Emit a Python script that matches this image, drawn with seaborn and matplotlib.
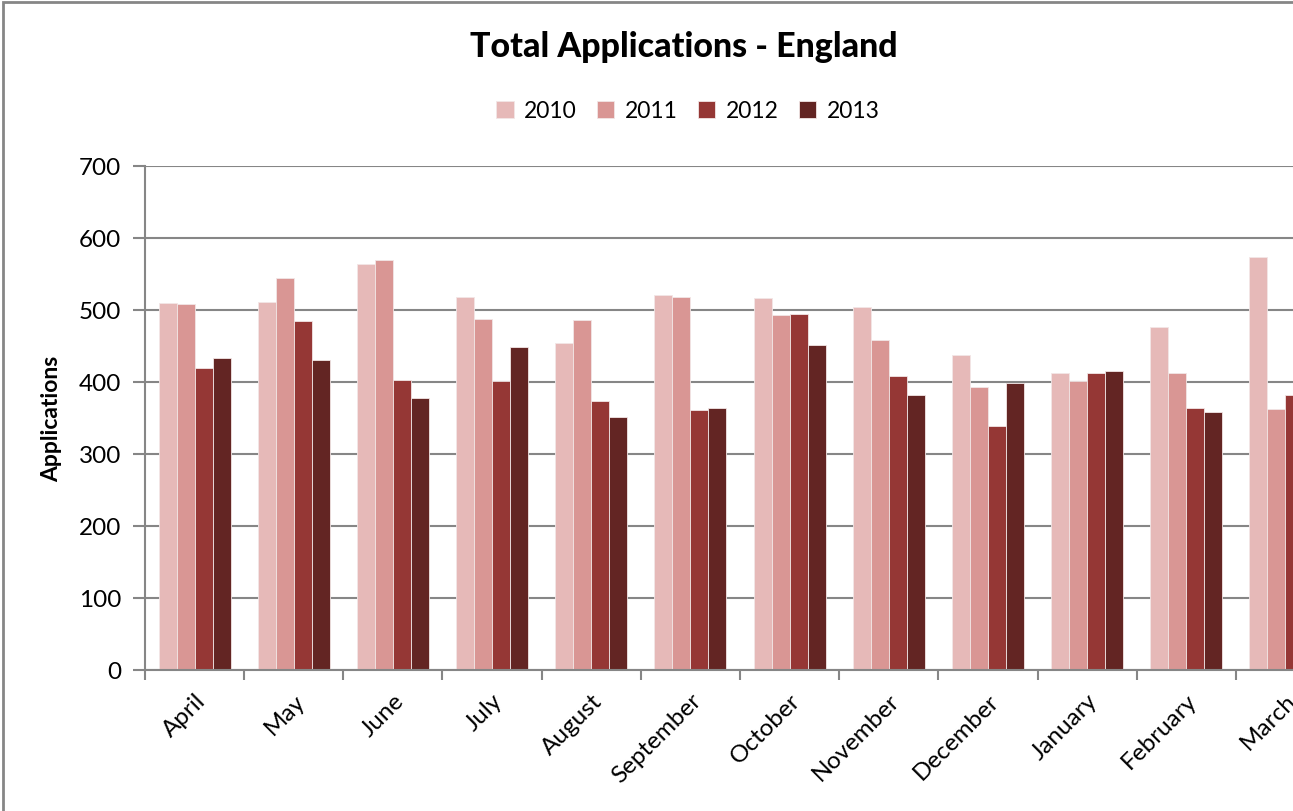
import matplotlib
matplotlib.use("Agg")
import matplotlib.pyplot as plt
import seaborn as sns
import pandas as pd
from matplotlib.patches import Rectangle
from matplotlib.ticker import FixedLocator

months = ["April", "May", "June", "July", "August", "September", "October",
          "November", "December", "January", "February", "March"]
years = ["2010", "2011", "2012", "2013"]
apps_2010 = [510, 511, 564, 518, 454, 521, 516, 504, 438, 413, 476, 574]
apps_2011 = [508, 545, 569, 488, 486, 518, 493, 458, 393, 401, 412, 362]
apps_2012 = [419, 485, 403, 401, 373, 361, 494, 408, 339, 412, 364, 382]
apps_2013 = [433, 431, 378, 448, 352, 364, 452, 382, 398, 415, 358, 390]
colors = ["#E6B9B8", "#D99694", "#953735", "#632523"]

df = pd.DataFrame({
    "month": months * 4,
    "year": sum([[y] * len(months) for y in years], []),
    "value": apps_2010 + apps_2011 + apps_2012 + apps_2013,
})

sns.set_theme(style="white")
plt.rcParams["font.family"] = ["Lato", "DejaVu Sans"]
plt.rcParams["text.color"] = "black"
plt.rcParams["axes.labelcolor"] = "black"

W, H = 1293, 812
fig = plt.figure(figsize=(W / 100, H / 100), dpi=100)
# plot area runs past the right edge, as in the cropped original
ax = fig.add_axes([145 / W, 1 - 671 / H, 1190 / W, (671 - 167) / H])

sns.barplot(data=df, x="month", y="value", hue="year", order=months,
            hue_order=years, palette=colors, width=0.727, gap=0,
            edgecolor="#F2E6E6", linewidth=0.6, saturation=1, ax=ax)

ax.set_xlim(-0.5, 11.5)
ax.set_ylim(0, 700)
ax.set_yticks(range(0, 701, 100))
ax.yaxis.grid(True, color="#868686", linewidth=1.5)
ax.set_axisbelow(True)
for s in ["top", "right"]:
    ax.spines[s].set_visible(False)
for s in ["left", "bottom"]:
    ax.spines[s].set_color("#868686")
    ax.spines[s].set_linewidth(1.5)

ax.tick_params(axis="y", which="major", left=True, length=9, width=1.5,
               color="#868686", labelsize=17.5, pad=8, labelcolor="black")
ax.tick_params(axis="x", which="major", length=0, labelsize=17.5, pad=14,
               labelcolor="black")
ax.xaxis.set_minor_locator(FixedLocator([i - 0.5 for i in range(13)]))
ax.tick_params(axis="x", which="minor", bottom=True, length=7, width=1.5,
               color="#868686")
for lbl in ax.get_xticklabels():
    lbl.set_rotation(45)
    lbl.set_ha("right")
    lbl.set_rotation_mode("anchor")

ax.set_xlabel("")
ax.set_ylabel("Applications", fontsize=16.5, fontweight="bold", labelpad=12)

handles, labels = ax.get_legend_handles_labels()
ax.legend(handles, labels, loc="center", bbox_to_anchor=(688 / W, 1 - 112 / H),
          bbox_transform=fig.transFigure, ncol=4, frameon=False, fontsize=16.5,
          handlelength=0.75, handleheight=0.75, handletextpad=0.45,
          columnspacing=0.9)

fig.text(684 / W, 1 - 47 / H, "Total Applications - England", ha="center",
         va="center", fontsize=24.5, fontweight="black")

fig.patches.append(Rectangle((3 / W, -0.1), 1.2, 1 - 3 / H + 0.1,
                             transform=fig.transFigure, fill=False,
                             edgecolor="#868686", linewidth=2))

fig.savefig("out.png", dpi=100)
